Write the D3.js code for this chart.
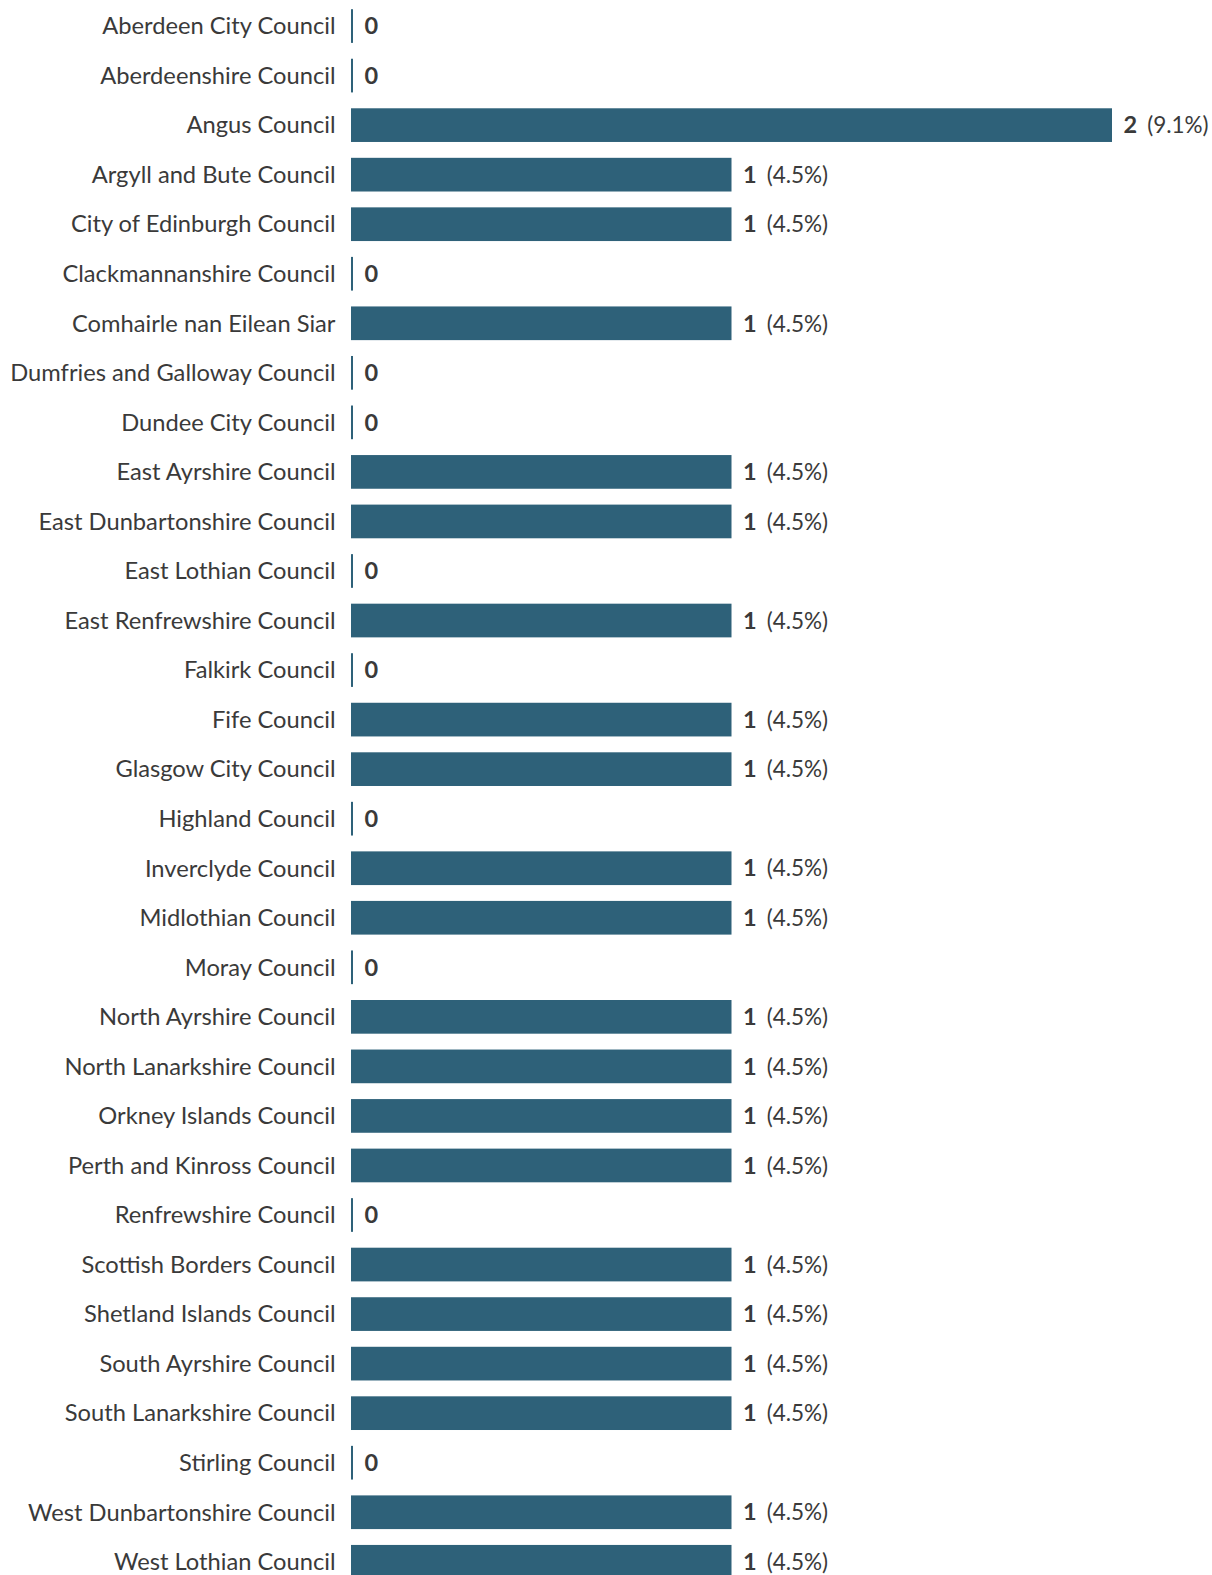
<!DOCTYPE html>
<html>
<head>
<meta charset="utf-8">
<script src="https://cdn.jsdelivr.net/npm/d3@7"></script>
<style>
  html, body { margin: 0; padding: 0; background: #fff; overflow: hidden; }
  svg { display: block; }
  text { font-family: Lato, "Open Sans", sans-serif; }
</style>
</head>
<body>
<svg id="chart" width="1212" height="1575"></svg>
<script>
const categories = [
  "Aberdeen City Council", "Aberdeenshire Council", "Angus Council", "Argyll and Bute Council",
  "City of Edinburgh Council", "Clackmannanshire Council", "Comhairle nan Eilean Siar",
  "Dumfries and Galloway Council", "Dundee City Council", "East Ayrshire Council",
  "East Dunbartonshire Council", "East Lothian Council", "East Renfrewshire Council",
  "Falkirk Council", "Fife Council", "Glasgow City Council", "Highland Council",
  "Inverclyde Council", "Midlothian Council", "Moray Council", "North Ayrshire Council",
  "North Lanarkshire Council", "Orkney Islands Council", "Perth and Kinross Council",
  "Renfrewshire Council", "Scottish Borders Council", "Shetland Islands Council",
  "South Ayrshire Council", "South Lanarkshire Council", "Stirling Council",
  "West Dunbartonshire Council", "West Lothian Council"
];
const counts = [0,0,2,1,1,0,1,0,0,1,1,0,1,0,1,1,0,1,1,0,1,1,1,1,0,1,1,1,1,0,1,1];
const percentLabels = ["","","9.1%","4.5%","4.5%","","4.5%","","","4.5%","4.5%","","4.5%","","4.5%","4.5%","","4.5%","4.5%","","4.5%","4.5%","4.5%","4.5%","","4.5%","4.5%","4.5%","4.5%","","4.5%","4.5%"];

const data = categories.map((c, i) => ({ cat: c, v: counts[i], pct: percentLabels[i] }));

const svg = d3.select("#chart");
const barLeft = 351;
const step = 49.54;
const top0 = 9.2 - step * 0.16;

const x = d3.scaleLinear().domain([0, 2]).range([barLeft, 1112]);
const y = d3.scaleBand()
  .domain(categories)
  .range([top0, top0 + step * categories.length])
  .paddingInner(0.32)
  .paddingOuter(0.16);

const barColor = "#2e6179";
const textColor = "#3a3a3a";

const row = svg.selectAll("g.row").data(data).join("g").attr("class", "row");

row.append("text")
  .attr("x", 335.5)
  .attr("y", d => y(d.cat) + y.bandwidth() / 2)
  .attr("dy", "0.35em")
  .attr("text-anchor", "end")
  .attr("font-size", 23.7)
  .attr("fill", textColor)
  .text(d => d.cat);

row.append("rect")
  .attr("x", x(0))
  .attr("y", d => y(d.cat))
  .attr("height", y.bandwidth())
  .attr("width", d => d.v === 0 ? 2 : x(d.v) - x(0))
  .attr("fill", barColor);

const lbl = row.append("text")
  .attr("x", d => (d.v === 0 ? x(0) + 2 : x(d.v)) + 11.5)
  .attr("y", d => y(d.cat) + y.bandwidth() / 2)
  .attr("dy", "0.35em")
  .attr("font-size", 23.5)
  .attr("fill", textColor);

lbl.append("tspan").attr("font-weight", "bold").text(d => d.v);
lbl.filter(d => d.pct !== "").append("tspan")
  .attr("dx", 10)
  .attr("font-size", 22.5)
  .text(d => "(" + d.pct + ")");
</script>
</body>
</html>
